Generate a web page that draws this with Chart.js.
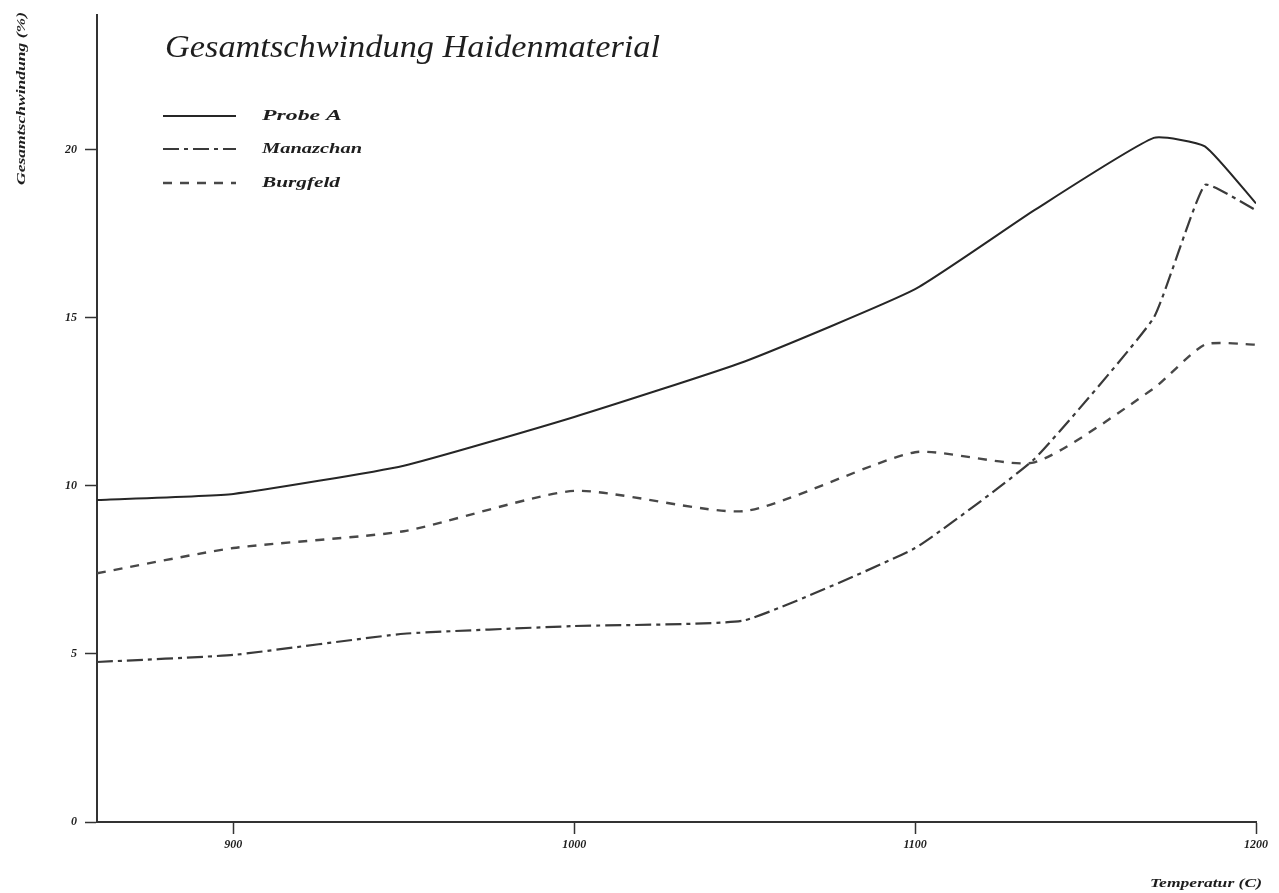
<!DOCTYPE html>
<html>
<head>
<meta charset="utf-8">
<script src="https://cdn.jsdelivr.net/npm/chart.js@4.4.1/dist/chart.umd.min.js"></script>
<style>
  html, body { margin: 0; padding: 0; background: #fff; }
  #wrap { width: 1279px; height: 893px; }
</style>
</head>
<body>
<div id="wrap"><canvas id="c" width="1279" height="893"></canvas></div>
<script>
// Temperatures (°C) at which shrinkage was measured
const temperatures = [860, 900, 950, 1000, 1050, 1100, 1135, 1170, 1185, 1200];
// Total shrinkage (%) per sample
const probeA     = [9.58, 9.76, 10.6, 12.05, 13.7, 15.85, 18.2, 20.35, 20.1, 18.4];
const manazchan  = [4.76, 4.97, 5.6, 5.83, 6.0, 8.15, 10.8, 15.0, 18.95, 18.2];
const burgfeld   = [7.4, 8.15, 8.65, 9.85, 9.25, 11.0, 10.7, 12.9, 14.2, 14.2];
const seriesNames = ['Probe A', 'Manazchan', 'Burgfeld'];
const xTicks = [900, 1000, 1100, 1200];
const yTicks = [0, 5, 10, 15, 20];
const chartTitle = 'Gesamtschwindung Haidenmaterial';
const xTitle = 'Temperatur (C)';
const yTitle = 'Gesamtschwindung (%)';

const toPoints = vals => temperatures.map((t, i) => ({ x: t, y: vals[i] }));
const SERIF = '"Liberation Serif", "DejaVu Serif", serif';

// Draws text stretched horizontally to a given width
function fitText(ctx, text, x, y, width, font) {
  ctx.save();
  ctx.font = font;
  const w = ctx.measureText(text).width;
  ctx.translate(x, y);
  ctx.scale(width / w, 1);
  ctx.fillText(text, 0, 0);
  ctx.restore();
}

// Title, legend and axis titles
const decorations = {
  id: 'decorations',
  afterDraw(chart) {
    const ctx = chart.ctx;
    ctx.save();
    ctx.fillStyle = '#1e1e1e';
    ctx.textAlign = 'left';
    ctx.textBaseline = 'alphabetic';
    fitText(ctx, chartTitle, 165, 57, 495, 'italic 31px ' + SERIF);

    const rows = [116, 149, 183];
    const widths = [80, 100, 78];
    chart.data.datasets.forEach((ds, i) => {
      const y = rows[i];
      ctx.save();
      ctx.strokeStyle = ds.borderColor;
      ctx.lineWidth = ds.borderWidth;
      ctx.setLineDash(ds.borderDash || []);
      ctx.beginPath();
      ctx.moveTo(163, y);
      ctx.lineTo(236, y);
      ctx.stroke();
      ctx.restore();
      ctx.textBaseline = 'middle';
      fitText(ctx, ds.label, 262, y, widths[i], 'bold italic 15px ' + SERIF);
    });

    ctx.textBaseline = 'middle';
    fitText(ctx, xTitle, 1150, 884, 112, 'bold italic 12px ' + SERIF);

    ctx.save();
    ctx.translate(22, 185);
    ctx.rotate(-Math.PI / 2);
    fitText(ctx, yTitle, 0, 0, 173, 'bold italic 13px ' + SERIF);
    ctx.restore();
    ctx.restore();
  }
};

const tickFont = { family: SERIF, size: 12, style: 'italic', weight: 'bold' };

new Chart(document.getElementById('c'), {
  type: 'line',
  data: {
    datasets: [
      { label: seriesNames[0], data: toPoints(probeA), borderColor: '#262626', borderWidth: 2, borderDash: [], tension: 0.15 },
      { label: seriesNames[1], data: toPoints(manazchan), borderColor: '#3a3a3a', borderWidth: 2.2, borderDash: [16, 5, 4, 5], tension: 0.12 },
      { label: seriesNames[2], data: toPoints(burgfeld), borderColor: '#484848', borderWidth: 2.4, borderDash: [9, 8], tension: 0.2 }
    ]
  },
  options: {
    responsive: false,
    animation: false,
    layout: { padding: { left: 0, right: 23, top: 13, bottom: 0 } },
    elements: { point: { radius: 0 } },
    plugins: { legend: { display: false }, tooltip: { enabled: false }, title: { display: false } },
    scales: {
      x: {
        type: 'linear', min: 860, max: 1200,
        afterBuildTicks: s => { s.ticks = xTicks.map(v => ({ value: v })); },
        afterFit: s => { s.height = 71; },
        grid: { drawOnChartArea: false, drawTicks: true, tickLength: 12, color: '#333', tickWidth: 1.5 },
        border: { display: true, color: '#333', width: 2 },
        ticks: { padding: 4, color: '#1e1e1e', font: tickFont, maxRotation: 0, callback: v => String(v) }
      },
      y: {
        type: 'linear', min: 0, max: 24,
        afterBuildTicks: s => { s.ticks = yTicks.map(v => ({ value: v })); },
        afterFit: s => { s.width = 97; },
        grid: { drawOnChartArea: false, drawTicks: true, tickLength: 12, color: '#333', tickWidth: 1.5 },
        border: { display: true, color: '#333', width: 2 },
        ticks: { padding: 8, color: '#1e1e1e', font: tickFont, callback: v => String(v) }
      }
    }
  },
  plugins: [decorations]
});
</script>
</body>
</html>
